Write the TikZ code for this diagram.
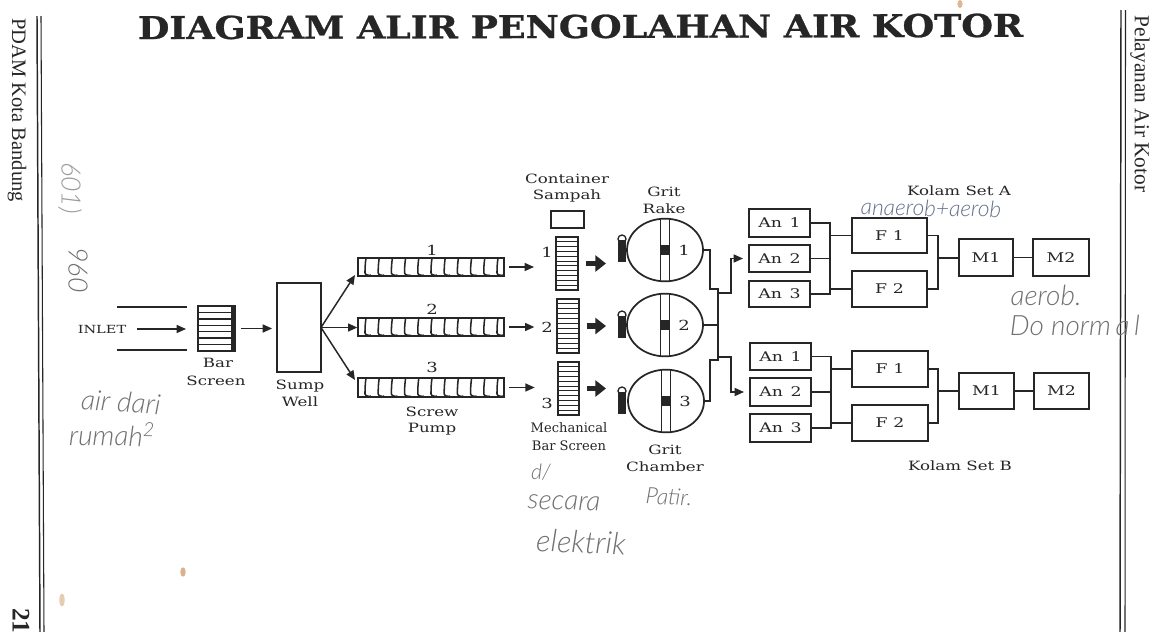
\documentclass[tikz,border=0pt]{standalone}
\usepackage{fontspec}
\usepackage{graphicx}
\setmainfont{DejaVu Serif}
\newfontfamily\widefont[FakeStretch=1.3]{DejaVu Serif}
\newfontfamily\titlefont[FakeBold=0.8]{DejaVu Serif Bold}
\newfontfamily\sidefont{Liberation Serif}
\newfontfamily\handfont{Lato Light}
\usetikzlibrary{arrows.meta,shapes.geometric,calc}
\definecolor{ink}{HTML}{262626}
\definecolor{handgray}{HTML}{707070}
\definecolor{handblue}{HTML}{66708C}
\tikzset{
  x=0.75pt,y=-0.75pt,
  ink line/.style={draw=ink,line width=1.1pt},
  wire/.style={ink line},
  boxn/.style={ink line,rectangle,inner sep=0pt,outer sep=0pt,font=\widefont\fontsize{10}{11}\selectfont,text=ink},
  label/.style={inner sep=0pt,outer sep=0pt,text=ink,font=\widefont\fontsize{9.6}{10}\selectfont},
  num/.style={label,font=\widefont\fontsize{10.4}{10}\selectfont},
  thin arrow/.style={ink line,-{Triangle[length=7pt,width=6pt]}},
  fat arrow/.style={draw=ink,line width=3.8pt,-{Triangle[length=8pt,width=12pt]}},
  grit/.style={ink line,line width=1.3pt,ellipse,inner sep=0pt,outer sep=0pt,minimum width=57pt,minimum height=47pt},
  keyblock/.style={fill=ink,inner sep=0pt,outer sep=0pt,rectangle,minimum width=6pt,minimum height=16pt},
  hand/.style={inner sep=0pt,outer sep=0pt,text=handgray,font=\handfont\itshape\fontsize{21}{24}\selectfont},
  handb/.style={hand,text=handblue},
  rule/.style={draw=ink,line width=1.1pt},
  rulethin/.style={draw=ink,line width=.8pt},
  speck/.style={fill=#1,draw=none,inner sep=0pt}
}
\newcommand\bx[6]{\node[boxn,minimum width={(#4-#2)*0.75pt},minimum height={(#5-#3)*0.75pt}] (#1) at ({(#2+#4)/2},{(#3+#5)/2}) {#6};}
% screw pump: name, top, bottom
\newcommand\screw[3]{%
  \bx{#1}{358}{#2}{504}{#3}{}
  \draw[draw=ink,line width=2pt] (358,#2)--(504,#2) (358,#3)--(504,#3);
  \foreach \i in {0,...,10}{
    \pgfmathsetmacro\xx{366+13.2*\i}
    \draw[draw=ink,line width=1.15pt] (\xx,#2) .. controls (\xx-1,{#2+7}) and (\xx-1,{#3-7}) .. (\xx-1,{#3-3}) .. controls (\xx-1,{#3-1}) and (\xx+4,#3) .. (\xx+5,{#3-1});
  }
}
% mechanical bar screen: name, x1,y1,x2,y2
\newcommand\mscreen[5]{%
  \bx{#1}{#2}{#3}{#4}{#5}{}
  \foreach \i in {1,...,10}{
    \draw[draw=ink,line width=.7pt] (#2,{#3+(#5-#3)*\i/11}) -- (#4,{#3+(#5-#3)*\i/11});
  }
}
% grit chamber: name, cx, cy, number, number x, key top y
\newcommand\gritc[6]{%
  \node[grit] (#1) at (#2,#3) {};
  \draw[draw=ink,line width=1pt] ({#2-4.5},{#3-30.5}) -- ({#2-4.5},{#3+30.5}) ({#2+4.5},{#3-30.5}) -- ({#2+4.5},{#3+30.5});
  \fill[ink] ({#2-4.5},{#3-5}) rectangle ({#2+4.5},{#3+5});
  \node[num] at (#5,#3) {#4};
  \node[keyblock] (key#1) at (622,{#6+13}) {};
  \draw[draw=ink,line width=1pt] (622,{#6+1}) circle[radius=3pt];
}
\begin{document}
\begin{tikzpicture}
\useasboundingbox (0,0) rectangle (1157,632);
\fill[white] (0,0) rectangle (1157,632);

% title and page furniture
\node[inner sep=0pt,outer sep=0pt,text=ink,rotate=0.15] (title) at (580.5,26.5) {\resizebox{664pt}{17.5pt}{\titlefont DIAGRAM ALIR PENGOLAHAN AIR KOTOR}};
\node[inner sep=0pt,text=ink,rotate=-90,font=\sidefont\fontsize{15.4}{17}\selectfont] (pdam) at (17,110) {PDAM Kota Bandung};
\node[inner sep=0pt,text=ink,rotate=-90,font=\sidefont\fontsize{16}{18}\selectfont] (pelayanan) at (1140,104) {Pelayanan Air Kotor};
\node[inner sep=0pt,text=ink,rotate=-90,anchor=west,font=\sidefont\bfseries\fontsize{19}{20}\selectfont] (page) at (21,608) {21};
\draw[rule] (37,16) -- (40,632);
\draw[rulethin] (41,16) -- (44,632);
\draw[rule] (1121,10) -- (1120,632);
\draw[rulethin] (1125.5,10) -- (1125,632);

% inlet
\node[label,font=\widefont\fontsize{8.4}{9}\selectfont] (inlet) at (102,329) {INLET};
\coordinate (il1) at (117,307); \coordinate (il2) at (187,307);
\coordinate (il3) at (117,350); \coordinate (il4) at (187,350);
\draw[ink line,line width=1.3pt] (il1) -- (il2) (il3) -- (il4);
\bx{bs}{198}{306}{235}{351}{}
\foreach \i in {1,...,6}{\draw[draw=ink,line width=1pt] (198,{306+\i*6.43}) -- (235,{306+\i*6.43});}
\fill[ink] (231,306) rectangle (236,351);
\draw[thin arrow,shorten <=8pt,shorten >=9pt] (inlet.east) -- (inlet.east -| bs.west);
\node[label] at (218,363) {Bar};
\node[label] at (216,381) {Screen};

% sump well
\bx{sump}{277}{283}{321}{372}{}
\node[label] at (300,386) {Sump};
\node[label] at (300,402) {Well};
\draw[thin arrow,shorten <=4.5pt,shorten >=3.7pt] (bs.east) -- (bs.east -| sump.west);

% screw pumps
\screw{sp1}{258}{276}
\screw{sp2}{318}{336}
\screw{sp3}{378}{397}
\node[num] at (432,250) {1};
\node[num] at (432,309) {2};
\node[num] at (432,367) {3};
\node[label] at (432,412) {Screw};
\node[label] at (432,429) {Pump};
\coordinate (t1) at (355,275); \coordinate (t3) at (355,380);
\draw[thin arrow] (sump.east) -- (t1);
\draw[thin arrow,shorten >=0.5pt] (sump.east) -- (sump.east -| sp2.west);
\draw[thin arrow] (sump.east) -- (t3);

% container and mechanical bar screens
\node[label] at (567,179) {Container};
\node[label] at (567,196) {Sampah};
\bx{cont}{551}{211}{584}{228}{}
\mscreen{ms1}{556}{237}{578}{290}
\mscreen{ms2}{557}{299}{579}{353}
\mscreen{ms3}{558}{362}{579}{415}
\node[num] at (547,252) {1};
\node[num] at (547,327) {2};
\node[num] at (547,403) {3};
\node[label,font=\fontsize{9.8}{10}\selectfont] at (569,428) {Mechanical};
\node[label,font=\fontsize{9.8}{10}\selectfont] at (569,446) {Bar Screen};
\draw[thin arrow,shorten <=3.7pt,shorten >=16.5pt] (sp1.east) -- (sp1.east -| ms1.west);
\draw[thin arrow,shorten <=3.7pt,shorten >=17pt] (sp2.east) -- (sp2.east -| ms2.west);
\draw[thin arrow,shorten <=3.7pt,shorten >=17.5pt] (sp3.east) -- (sp3.east -| ms3.west);

% grit chambers
\gritc{g1}{665}{250}{1}{684}{238}
\gritc{g2}{665}{325}{2}{684}{314}
\gritc{g3}{666}{401}{3}{685}{390}
\node[label] at (664,192) {Grit};
\node[label] at (664,209) {Rake};
\node[label] at (665,450) {Grit};
\node[label] at (665,467) {Chamber};
\draw[fat arrow,shorten <=6pt,shorten >=9pt] (ms1.east) -- (ms1.east -| keyg1.west);
\draw[fat arrow,shorten <=6pt,shorten >=9pt] (ms2.east) -- (ms2.east -| keyg2.west);
\draw[fat arrow,shorten <=6pt,shorten >=9pt] (ms3.east) -- (ms3.east -| keyg3.west);

% kolam set A
\node[label] at (959,191) {Kolam Set A};
\bx{anA1}{749}{209}{810}{237}{An\, 1}
\bx{anA2}{749}{245}{810}{272}{An\, 2}
\bx{anA3}{749}{281}{810}{307}{An\, 3}
\bx{fA1}{852}{218}{927}{253}{F 1}
\bx{fA2}{852}{271}{927}{307}{F 2}
\bx{mA1}{959}{239}{1013}{276}{M1}
\bx{mA2}{1033}{239}{1089}{276}{M2}
\coordinate (spA) at (830,258); \coordinate (rA) at (938,258);
\draw[wire] (anA1.east) -| (spA);
\draw[wire] (anA3.east) -| (spA);
\draw[wire] (anA2.east) -- (anA2.east -| spA);
\draw[wire] (fA1.west) -| (spA);
\draw[wire] (fA2.west) -| (spA);
\draw[wire] (fA1.east) -| (rA);
\draw[wire] (fA2.east) -| (rA);
\draw[wire] (rA) -- (rA -| mA1.west);
\draw[wire] (mA1.east) -- (mA2.west);

% kolam set B
\node[label] at (960,466) {Kolam Set B};
\bx{anB1}{750}{343}{811}{370}{An\, 1}
\bx{anB2}{750}{378}{811}{406}{An\, 2}
\bx{anB3}{750}{414}{811}{442}{An\, 3}
\bx{fB1}{852}{351}{928}{387}{F 1}
\bx{fB2}{852}{405}{928}{441}{F 2}
\bx{mB1}{959}{373}{1014}{409}{M1}
\bx{mB2}{1034}{373}{1089}{409}{M2}
\coordinate (spB) at (831,392); \coordinate (rB) at (938,391);
\draw[wire] (anB1.east) -| (spB);
\draw[wire] (anB3.east) -| (spB);
\draw[wire] (anB2.east) -- (anB2.east -| spB);
\draw[wire] (fB1.west) -| (spB);
\draw[wire] (fB2.west) -| (spB);
\draw[wire] (fB1.east) -| (rB);
\draw[wire] (fB2.east) -| (rB);
\draw[wire] (rB) -- (mB1.west);
\draw[wire] (mB1.east) -- (mB2.west);

% grit outlet manifold
\coordinate (k1) at (710,289); \coordinate (k3) at (710,360);
\coordinate (sTop) at (718,289); \coordinate (sBot) at (718,360);
\coordinate (u1) at (718,293); \coordinate (u2) at (731,293);
\coordinate (l1) at (718,357); \coordinate (l2) at (731,357);
\draw[wire] (g1.east) -| (k1) -- (sTop) -- (sBot) -- (k3) |- (g3.east);
\draw[wire] (g2.east) -- (g2.east -| sTop);
\draw[thin arrow,shorten >=4.5pt] (u1) -- (u2) |- (anA2.west);
\draw[thin arrow,shorten >=4.5pt] (l1) -- (l2) |- (anB2.west);

% handwriting
\node[hand,rotate=-4] at (121,402) {air dari};
\node[hand,rotate=-1] at (112,434) {rumah\textsuperscript{2}};
\node[hand,rotate=-90,font=\handfont\itshape\fontsize{20}{22}\selectfont] at (78,270) {960};
\node[hand,rotate=-90,text=handgray!70,font=\handfont\itshape\fontsize{20}{22}\selectfont] at (70,188) {601)};
\node[hand,font=\handfont\itshape\fontsize{16}{18}\selectfont] at (541,472) {d/};
\node[hand,rotate=-2] at (564,503) {secara};
\node[hand,rotate=-3,font=\handfont\itshape\fontsize{17}{19}\selectfont] at (669,497) {Patir.};
\node[hand,rotate=-2,font=\handfont\itshape\fontsize{23}{25}\selectfont] at (581,542) {elektrik};
\node[handb,rotate=-1,font=\handfont\itshape\fontsize{17}{19}\selectfont] at (931,208) {anaerob+aerob};
\node[hand] at (1046,295) {aerob.};
\node[hand] at (1075,325) {Do norm\,a\,l};

% scan specks
\fill[speck=brown!55] (960,4) ellipse[x radius=2pt,y radius=3pt];
\fill[speck=brown!60] (183,572) ellipse[x radius=2pt,y radius=3.5pt];
\fill[speck=brown!40] (62,600) ellipse[x radius=2pt,y radius=5pt];
\end{tikzpicture}
\end{document}
